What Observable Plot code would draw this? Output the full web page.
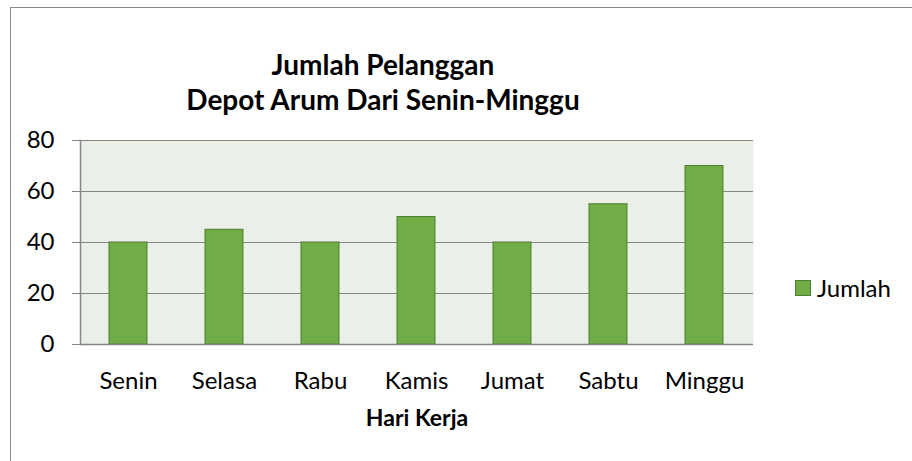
<!DOCTYPE html>
<html>
<head>
<meta charset="utf-8">
<script src="https://cdn.jsdelivr.net/npm/d3@7"></script>
<script src="https://cdn.jsdelivr.net/npm/@observablehq/plot@0.6"></script>
<style>
  html, body { margin: 0; padding: 0; background: #fff; }
  #wrap { position: relative; width: 912px; height: 461px; overflow: hidden; font-family: Lato, "Noto Sans", sans-serif; color: #000; }
  #border { position: absolute; left: 10px; top: 7px; width: 920px; height: 470px; border-top: 1.5px solid #8a8a8a; border-left: 1.5px solid #8a8a8a; }
  #title { position: absolute; left: 133px; width: 500px; top: 47px; text-align: center; font-weight: bold; font-size: 28px; line-height: 35px; white-space: nowrap; }
  #xlabel { position: absolute; left: 317px; width: 200px; top: 404px; text-align: center; font-weight: bold; font-size: 23px; line-height: 1.2; }
  #legend { position: absolute; left: 795px; top: 273px; font-size: 24px; display: flex; align-items: center; }
  #legend .sw { width: 14px; height: 14px; background: #70AD47; border: 1px solid #507E32; margin-right: 6px; }
  #chart { position: absolute; left: 0; top: 0; }
</style>
</head>
<body>
<div id="wrap">
  <div id="border"></div>
  <div id="chart"></div>
  <div id="title"></div>
  <div id="xlabel"></div>
  <div id="legend"></div>
</div>
<script>
const titleLines = ["Jumlah Pelanggan", "Depot Arum Dari Senin-Minggu"];
const xTitle = "Hari Kerja";
const seriesName = "Jumlah";
const days = ["Senin", "Selasa", "Rabu", "Kamis", "Jumat", "Sabtu", "Minggu"];
const values = [40, 45, 40, 50, 40, 55, 70];
const yTicks = [0, 20, 40, 60, 80];

const data = days.map((d, i) => ({day: d, value: values[i]}));

const chart = Plot.plot({
  width: 912,
  height: 461,
  marginLeft: 80,
  marginRight: 159,
  marginTop: 140,
  marginBottom: 117,
  style: {fontFamily: "Lato, 'Noto Sans', sans-serif", fontSize: "24px", color: "#000", background: "transparent"},
  x: {domain: days, paddingInner: 0.6, paddingOuter: 0.3, label: null},
  y: {domain: [0, 80], ticks: yTicks, label: null},
  marks: [
    Plot.frame({fill: "#EAEFE7", stroke: null}),
    Plot.gridY(yTicks, {stroke: "#868686", strokeOpacity: 1, strokeWidth: 1.2}),
    Plot.frame({anchor: "left", stroke: "#868686", strokeWidth: 1.5}),
    Plot.barY(data, {x: "day", y: "value", fill: "#70AD47", stroke: "#507E32", strokeWidth: 1}),
    Plot.ruleY([0], {stroke: "#868686", strokeWidth: 1.5}),
    Plot.axisY(yTicks, {tickSize: 8, tickPadding: 18, stroke: "#868686", fill: "#000", label: null, fontSize: 24}),
    Plot.axisX({tickSize: 0, tickPadding: 27, fill: "#000", label: null, fontSize: 24})
  ]
});
document.getElementById("chart").appendChild(chart);

document.getElementById("title").innerHTML = titleLines.join("<br>");
document.getElementById("xlabel").textContent = xTitle;
const lg = document.getElementById("legend");
const sw = document.createElement("div"); sw.className = "sw";
const tx = document.createElement("span"); tx.textContent = seriesName;
lg.appendChild(sw); lg.appendChild(tx);
</script>
</body>
</html>
